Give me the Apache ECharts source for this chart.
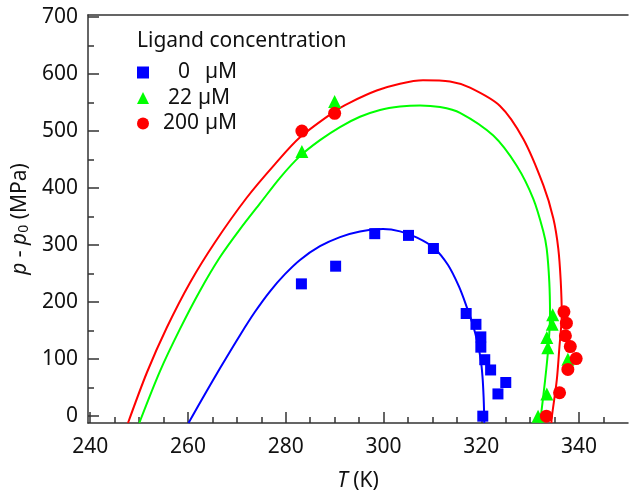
<!DOCTYPE html>
<html>
<head>
<meta charset="utf-8">
<script src="https://cdn.jsdelivr.net/npm/echarts@6/dist/echarts.min.js"></script>
<style>
  html, body { margin: 0; padding: 0; background: #fff; }
  #chart { width: 629px; height: 497px; }
</style>
</head>
<body>
<div id="chart"></div>
<script>
// tick values
var xMajor = [240, 260, 280, 300, 320, 340];
var xMinor = [245, 250, 255, 265, 270, 275, 285, 290, 295, 305, 310, 315, 325, 330, 335, 345];
var yMajor = [0, 100, 200, 300, 400, 500, 600, 700];
var yMinor = [50, 150, 250, 350, 450, 550, 650];

// measured points [T (K), p - p0 (MPa)]
var pts0 = [[283.2, 232], [290.2, 263], [298.2, 320], [305.1, 317], [310.2, 294],
  [316.9, 180], [318.9, 161], [319.9, 139], [319.9, 121], [320.7, 99],
  [321.9, 81], [325.0, 59], [323.4, 39], [320.3, 0]];
var pts22 = [[283.3, 464], [290.0, 552], [334.6, 178], [334.5, 161], [333.4, 138],
  [333.6, 120], [337.7, 100], [333.4, 39], [331.6, 0]];
var pts200 = [[283.3, 500], [290.0, 531], [336.9, 183], [337.4, 163], [337.2, 141],
  [338.2, 122], [339.4, 101], [337.7, 82], [336.0, 41], [333.3, 0]];

// fitted curves
var fit0 = [[260.11, -12], [263.69, 42], [266.55, 84], [270.64, 142], [273.71, 183],
  [276.78, 219], [279.84, 249], [282.91, 274], [287.0, 298], [291.09, 314], [295.18, 324],
  [299.89, 328], [303.37, 324], [306.85, 313], [310.32, 295], [313.19, 265], [315.44, 227],
  [317.08, 190], [318.31, 159], [319.22, 129], [319.88, 99], [320.25, 68], [320.47, 33],
  [320.59, -2], [320.61, -12]];
var fit22 = [[250.04, -12], [254.28, 79], [258.37, 153], [262.46, 220], [266.56, 279],
  [270.65, 328], [274.73, 373], [278.82, 418], [282.91, 456], [287.0, 484], [291.09, 507],
  [295.18, 525], [299.28, 537], [303.37, 543], [307.46, 545], [311.55, 542], [315.64, 532],
  [322.45, 492], [327.24, 439], [330.63, 381], [332.68, 324], [333.37, 294], [333.9, 236],
  [334.05, 178], [333.7, 120], [333.03, 62], [332.15, -2], [332.0, -12]];
var fit200 = [[247.73, -12], [251.62, 77], [255.65, 155], [260.41, 234], [265.53, 305],
  [272.01, 383], [277.8, 442], [282.91, 489], [290.07, 535], [293.14, 550], [298.6, 571],
  [303.37, 583], [308.07, 589], [313.59, 587], [317.68, 576], [323.82, 544], [328.59, 486],
  [332.68, 405], [334.72, 347], [335.74, 294], [336.24, 237], [336.45, 178], [335.96, 120],
  [335.43, 63], [334.41, -2], [334.33, -12]];

var font = "Noto Sans";
var axisColor = "#333";
var textColor = "#111";
var xMin = 239.55, xMax = 350;
var yMin = -12, yMax = 703.5;

var chart = echarts.init(document.getElementById("chart"));

function lineSeries(data, color) {
  return {
    type: "line",
    data: data,
    smooth: 0.3,
    showSymbol: false,
    silent: true,
    clip: true,
    lineStyle: { color: color, width: 2 },
    z: 2,
  };
}

function dotSeries(name, data, symbol, size, color) {
  return {
    name: name,
    type: "scatter",
    data: data,
    symbol: symbol,
    symbolSize: size,
    itemStyle: { color: color, opacity: 1 },
    z: 3,
  };
}

var option = {
  animation: false,
  textStyle: { fontFamily: font },
  grid: { left: 88, right: 1, top: 15, bottom: 71 },
  title: {
    text: "Ligand concentration",
    left: 137,
    top: 31,
    padding: 0,
    textStyle: { fontFamily: font, fontSize: 21, fontWeight: "normal", color: textColor },
  },
  legend: {
    orient: "vertical",
    left: 137,
    top: 62,
    padding: 0,
    itemGap: 4.5,
    itemWidth: 12,
    itemHeight: 12,
    data: ["0 µM", "22 µM", "200 µM"],
    formatter: function (name) {
      if (name === "0 µM") return "{n0|0}{u0|µM}";
      if (name === "22 µM") return "{n1|22}{u1|µM}";
      return "{n2|200}{u2|µM}";
    },
    textStyle: {
      fontFamily: font,
      fontSize: 21,
      color: textColor,
      rich: {
        n0: { padding: [0, 0, 0, 24], fontSize: 21 },
        n1: { padding: [0, 0, 0, 14], fontSize: 21 },
        n2: { padding: [0, 0, 0, 9], fontSize: 21 },
        u0: { padding: [0, 0, 0, 15], fontSize: 21 },
        u1: { padding: [0, 0, 0, 6], fontSize: 21 },
        u2: { padding: [0, 0, 0, 6], fontSize: 21 },
      },
    },
  },
  xAxis: [
    {
      type: "value",
      min: xMin,
      max: xMax,
      position: "bottom",
      name: "{i|T} (K)",
      nameLocation: "middle",
      nameGap: 48,
      nameTextStyle: {
        fontFamily: font,
        fontSize: 21,
        color: textColor,
        rich: { i: { fontStyle: "italic", fontSize: 21 } },
      },
      axisLine: { show: true, onZero: false, lineStyle: { color: axisColor, width: 1.5 } },
      axisTick: { show: true, inside: true, length: 11, customValues: xMajor, lineStyle: { color: axisColor, width: 1.5 } },
      axisLabel: { customValues: xMajor, fontSize: 21, color: textColor, margin: 14 },
      splitLine: { show: false },
    },
    {
      type: "value",
      min: xMin,
      max: xMax,
      position: "bottom",
      axisLine: { show: false, onZero: false },
      axisTick: { show: true, inside: true, length: 6, customValues: xMinor, lineStyle: { color: axisColor, width: 1.5 } },
      axisLabel: { show: false },
      splitLine: { show: false },
    },
    {
      type: "value",
      min: xMin,
      max: xMax,
      position: "top",
      axisLine: { show: true, onZero: false, lineStyle: { color: axisColor, width: 1.5 } },
      axisTick: { show: false },
      axisLabel: { show: false },
      splitLine: { show: false },
    },
  ],
  yAxis: [
    {
      type: "value",
      min: yMin,
      max: yMax,
      position: "left",
      name: "{i|p} - {i|p}{s|0} (MPa)",
      nameLocation: "middle",
      nameGap: 55,
      nameTextStyle: {
        fontFamily: font,
        fontSize: 21,
        color: textColor,
        rich: {
          i: { fontStyle: "italic", fontSize: 21 },
          s: { fontSize: 14, verticalAlign: "bottom", padding: [8, 0, 0, 0] },
        },
      },
      axisLine: { show: true, onZero: false, lineStyle: { color: axisColor, width: 1.5 } },
      axisTick: { show: true, inside: true, length: 11, customValues: yMajor, lineStyle: { color: axisColor, width: 1.5 } },
      axisLabel: { customValues: yMajor, fontSize: 21, color: textColor, margin: 10 },
      splitLine: { show: false },
    },
    {
      type: "value",
      min: yMin,
      max: yMax,
      position: "left",
      axisLine: { show: false, onZero: false },
      axisTick: { show: true, inside: true, length: 6, customValues: yMinor, lineStyle: { color: axisColor, width: 1.5 } },
      axisLabel: { show: false },
      splitLine: { show: false },
    },
  ],
  series: [
    lineSeries(fit0, "#0000ff"),
    lineSeries(fit22, "#00ff00"),
    lineSeries(fit200, "#ff0000"),
    dotSeries("0 µM", pts0, "rect", 11, "#0000ff"),
    dotSeries("22 µM", pts22, "triangle", 13, "#00ff00"),
    dotSeries("200 µM", pts200, "circle", 13, "#ff0000"),
  ],
};

chart.setOption(option);
</script>
</body>
</html>
